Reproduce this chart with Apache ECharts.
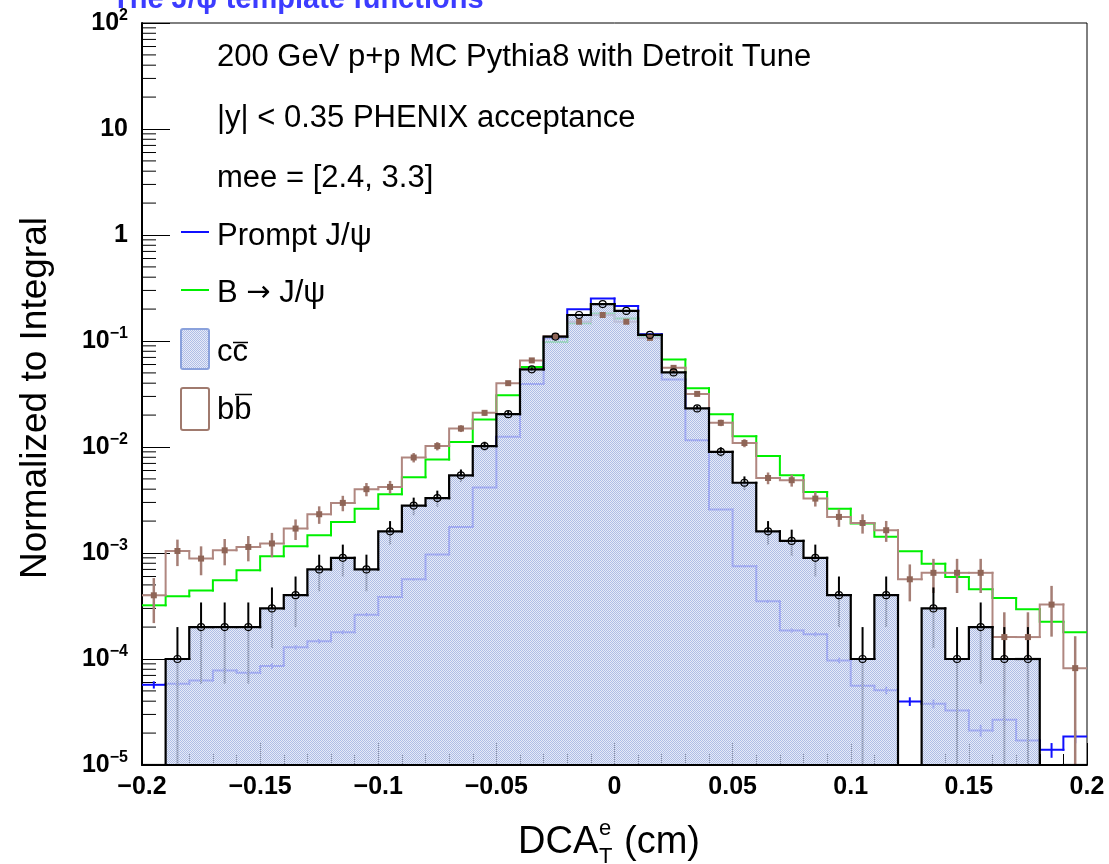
<!DOCTYPE html>
<html>
<head>
<meta charset="utf-8">
<title>J/psi DCA templates</title>
<script src="https://cdn.jsdelivr.net/npm/echarts@6/dist/echarts.min.js"></script>
<style>
  html, body { margin: 0; padding: 0; background: #ffffff; }
  #chart { width: 1109px; height: 864px; }
</style>
</head>
<body>
<div id="chart"></div>
<script>
// Bin edges of DCA_T^e (cm): 40 bins of 0.01 cm
const binEdges = [-0.2, -0.19, -0.18, -0.17, -0.16, -0.15, -0.14, -0.13, -0.12, -0.11,
  -0.1, -0.09, -0.08, -0.07, -0.06, -0.05, -0.04, -0.03, -0.02, -0.01,
  0, 0.01, 0.02, 0.03, 0.04, 0.05, 0.06, 0.07, 0.08, 0.09,
  0.1, 0.11, 0.12, 0.13, 0.14, 0.15, 0.16, 0.17, 0.18, 0.19, 0.2];

// Prompt J/psi (normalized to integral)
const promptJpsi = [5.71e-5, 5.84e-5, 6.28e-5, 7.8e-5, 7.41e-5, 8.57e-5, 1.29e-4, 1.47e-4, 1.79e-4, 2.62e-4,
  3.84e-4, 5.65e-4, 9.66e-4, 1.76e-3, 4.14e-3, 0.01247, 0.0394, 0.106, 0.199, 0.252,
  0.214, 0.116, 0.0434, 0.0116, 0.00257, 7.5e-4, 3.5e-4, 1.86e-4, 1.71e-4, 9.7e-5,
  5.6e-5, 5.06e-5, 3.98e-5, 3.78e-5, 3.27e-5, 2.12e-5, 2.67e-5, 1.7e-5, 1.39e-5, 1.86e-5];

// B -> J/psi
const bToJpsi = [3.21e-4, 3.9e-4, 4.44e-4, 5.52e-4, 6.87e-4, 9.31e-4, 1.16e-3, 1.47e-3, 1.96e-3, 2.62e-3,
  3.58e-3, 5.19e-3, 7.62e-3, 0.01117, 0.01817, 0.0308, 0.057, 0.098, 0.147, 0.182,
  0.163, 0.109, 0.067, 0.0358, 0.0204, 0.01265, 0.00824, 0.00542, 0.00377, 0.00262,
  0.0019, 0.00142, 0.00104, 7.9e-4, 5.94e-4, 4.54e-4, 3.76e-4, 2.94e-4, 2.25e-4, 1.79e-4];

// c cbar
const ccbar = [0, 1e-4, 2e-4, 2e-4, 2e-4, 3e-4, 4e-4, 7e-4, 9e-4, 7e-4,
  1.6e-3, 2.8e-3, 3.3e-3, 5.4e-3, 0.0102, 0.0204, 0.054, 0.110, 0.176, 0.223,
  0.192, 0.114, 0.0505, 0.0231, 0.0090, 0.0046, 0.0016, 0.0013, 9e-4, 4e-4,
  1e-4, 4e-4, 0, 3e-4, 1e-4, 2e-4, 1e-4, 1e-4, 0, 0];

// b bbar
const bbbar = [3.99e-4, 1.045e-3, 8.86e-4, 1.06e-3, 1.14e-3, 1.23e-3, 1.70e-3, 2.32e-3, 2.97e-3, 4.0e-3,
  4.2e-3, 7.96e-3, 0.0102, 0.01494, 0.021, 0.040, 0.0656, 0.111, 0.152, 0.176,
  0.152, 0.107, 0.0558, 0.0317, 0.0169, 0.0109, 0.0051, 0.00486, 0.00326, 0.00219,
  0.00192, 0.00164, 5.65e-4, 6.5e-4, 6.5e-4, 6.5e-4, 1.61e-4, 1.61e-4, 3.26e-4, 8.2e-5];

// Per-entry weights used for the Poisson error bars
const promptWeight = 3.5e-7;
const ccbarWeight = 1e-4;
const bbbarWeight = 8.2e-5;

// Axis decades (exponents) and minor multipliers of the log axis
const yDecades = [-5, -4, -3, -2, -1, 0, 1, 2];
const minorMultipliers = [2, 3, 4, 5, 6, 7, 8, 9];

const Y_MIN = 1e-5, Y_MAX = 100;
const FONT = '"Liberation Sans", Arial, Helvetica, sans-serif';

const BLUE = '#1010ff';
const GREEN = '#00f000';
const BROWN_LINE = '#b08780';
const BROWN_ERR = '#a57e75';
const BROWN_MARK = '#8f6557';

// 1-pixel stipple used for the c cbar fill
function makeStipple() {
  const c = document.createElement('canvas');
  c.width = 2; c.height = 2;
  const g = c.getContext('2d');
  g.fillStyle = '#afbee6';
  g.fillRect(0, 0, 1, 1);
  g.fillRect(1, 1, 1, 1);
  g.fillStyle = 'rgba(218,225,244,0.65)';
  g.fillRect(1, 0, 1, 1);
  g.fillRect(0, 1, 1, 1);
  return c;
}
const stipple = { image: makeStipple(), repeat: 'repeat' };

const floorVal = v => (v > Y_MIN ? v : Y_MIN);

function histItems(values) {
  return values.map((v, i) => [binEdges[i], binEdges[i + 1], v, i > 0 ? values[i - 1] : 0]);
}
function centerItems(values, weight) {
  const out = [];
  values.forEach((v, i) => {
    if (v > 0) out.push([(binEdges[i] + binEdges[i + 1]) / 2, v, Math.sqrt(v * weight)]);
  });
  return out;
}

function stepRenderer(color, width) {
  return function (params, api) {
    const x0 = api.value(0), x1 = api.value(1), v = floorVal(api.value(2));
    const pts = [];
    if (params.dataIndex > 0) pts.push(api.coord([x0, floorVal(api.value(3))]));
    pts.push(api.coord([x0, v]), api.coord([x1, v]));
    return {
      type: 'polyline', silent: true,
      shape: { points: pts },
      style: { stroke: color, lineWidth: width, fill: null, lineJoin: 'miter', lineCap: 'square' }
    };
  };
}

function errRenderer(color, width) {
  return function (params, api) {
    const x = api.value(0), v = api.value(1), e = api.value(2);
    const top = api.coord([x, v + e]);
    const bot = api.coord([x, floorVal(v - e)]);
    return {
      type: 'line', silent: true,
      shape: { x1: top[0], y1: top[1], x2: bot[0], y2: bot[1] },
      style: { stroke: color, lineWidth: width }
    };
  };
}

function fillRenderer(params, api) {
  const v = api.value(2);
  if (!(v > 0)) return null;
  const a = api.coord([api.value(0), v]);
  const b = api.coord([api.value(1), Y_MIN]);
  const x0 = Math.round(a[0]), x1 = Math.round(b[0]);
  return {
    type: 'rect', silent: true,
    shape: { x: x0, y: a[1], width: x1 - x0, height: b[1] - a[1] - 1 },
    style: { fill: stipple }
  };
}

// Minor ticks of the log axis (2..9 in each decade)
const minorTicks = [];
yDecades.slice(0, -1).forEach(d => {
  minorMultipliers.forEach(m => minorTicks.push([binEdges[0], m * Math.pow(10, d)]));
});
function minorTickRenderer(params, api) {
  const p = api.coord([api.value(0), api.value(1)]);
  return {
    type: 'line', silent: true,
    shape: { x1: p[0], y1: p[1], x2: p[0] + 14, y2: p[1] },
    style: { stroke: '#000', lineWidth: 1 }
  };
}

function powLabel(v) {
  const e = Math.round(Math.log10(v));
  if (e === 0) return '{b|1}';
  if (e === 1) return '{b|10}';
  return '{b|10}{s|' + String(e).replace('-', '\u2212') + '}';
}
function xLabel(v) {
  const s = String(+v.toFixed(3));
  return s.replace('-', '\u2212');
}

const customBase = { type: 'custom', coordinateSystem: 'cartesian2d', clip: true, silent: true, animation: false };

const option = {
  animation: false,
  backgroundColor: '#ffffff',
  grid: { left: 142, right: 22, top: 23, bottom: 99, show: true, borderColor: '#000', borderWidth: 1, backgroundColor: 'transparent' },
  xAxis: {
    type: 'value', min: -0.2, max: 0.2, interval: 0.05,
    axisLine: { show: true, onZero: false, lineStyle: { color: '#000', width: 2 } },
    axisTick: { show: true, inside: true, length: 22, lineStyle: { color: '#000', width: 1 } },
    minorTick: { show: true, splitNumber: 5, length: 11, lineStyle: { color: '#000', width: 1 } },
    splitLine: { show: false },
    axisLabel: {
      margin: 10, formatter: xLabel, color: '#000', fontFamily: FONT, fontWeight: 'bold', fontSize: 25,
      showMinLabel: true, showMaxLabel: true, hideOverlap: false
    }
  },
  yAxis: {
    type: 'log', logBase: 10, min: Y_MIN, max: Y_MAX, splitNumber: 7,
    axisLine: { show: true, onZero: false, lineStyle: { color: '#000', width: 2 } },
    axisTick: { show: true, inside: true, length: 28, lineStyle: { color: '#000', width: 1 } },
    splitLine: { show: false },
    axisLabel: {
      margin: 14, formatter: powLabel, color: '#000',
      showMinLabel: true, showMaxLabel: true, hideOverlap: false,
      rich: {
        b: { fontFamily: FONT, fontWeight: 'bold', fontSize: 25, lineHeight: 30, color: '#000' },
        s: { fontFamily: FONT, fontWeight: 'bold', fontSize: 16, lineHeight: 12, verticalAlign: 'top', color: '#000' }
      }
    }
  },
  series: [
    Object.assign({}, customBase, { name: 'minorTicks', z: 1, data: minorTicks, encode: { x: 0, y: 1 }, renderItem: minorTickRenderer }),
    Object.assign({}, customBase, { name: 'Prompt J/\u03c8', z: 2, data: histItems(promptJpsi), encode: { x: [0, 1], y: 2 }, renderItem: stepRenderer(BLUE, 2) }),
    Object.assign({}, customBase, { name: 'Prompt err', z: 2, data: centerItems(promptJpsi, promptWeight), encode: { x: 0, y: 1 }, renderItem: errRenderer(BLUE, 2) }),
    Object.assign({}, customBase, { name: 'B \u2192 J/\u03c8', z: 2, data: histItems(bToJpsi), encode: { x: [0, 1], y: 2 }, renderItem: stepRenderer(GREEN, 2) }),
    Object.assign({}, customBase, { name: 'bbbar', z: 2, data: histItems(bbbar), encode: { x: [0, 1], y: 2 }, renderItem: stepRenderer(BROWN_LINE, 2) }),
    Object.assign({}, customBase, { name: 'bbbar err', z: 2, data: centerItems(bbbar, bbbarWeight), encode: { x: 0, y: 1 }, renderItem: errRenderer(BROWN_ERR, 2.5) }),
    Object.assign({}, customBase, { name: 'ccbar err', z: 2, data: centerItems(ccbar, ccbarWeight), encode: { x: 0, y: 1 }, renderItem: errRenderer('#000', 2) }),
    Object.assign({}, customBase, { name: 'ccbar fill', z: 3, data: histItems(ccbar), encode: { x: [0, 1], y: 2 }, renderItem: fillRenderer }),
    Object.assign({}, customBase, { name: 'ccbar', z: 4, data: histItems(ccbar), encode: { x: [0, 1], y: 2 }, renderItem: stepRenderer('#000', 2.2) }),
    {
      type: 'scatter', name: 'bbbar points', z: 5, silent: true, animation: false,
      symbol: 'rect', symbolSize: 6, itemStyle: { color: BROWN_MARK, opacity: 1 },
      data: centerItems(bbbar, bbbarWeight).map(d => [d[0], d[1]])
    },
    {
      type: 'scatter', name: 'ccbar points', z: 5, silent: true, animation: false,
      symbol: 'circle', symbolSize: 7,
      itemStyle: { color: 'rgba(255,255,255,0)', borderColor: '#000', borderWidth: 1.2, opacity: 1 },
      data: centerItems(ccbar, ccbarWeight).map(d => [d[0], d[1]])
    }
  ],
  graphic: [
    // Title (partly above the canvas top edge)
    { type: 'text', x: 112, y: 14, z: 10, style: { text: 'The J/\u03c8 template functions', font: 'bold 29px ' + FONT, fill: '#3c3cff', textAlign: 'left', textVerticalAlign: 'bottom' } },
    // Annotations
    { type: 'text', x: 217, y: 57, z: 10, style: { text: '200 GeV p+p MC Pythia8 with Detroit Tune', font: '31px ' + FONT, fill: '#000', textAlign: 'left', textVerticalAlign: 'middle' } },
    { type: 'text', x: 217, y: 118, z: 10, style: { text: '|y| < 0.35 PHENIX acceptance', font: '31px ' + FONT, fill: '#000', textAlign: 'left', textVerticalAlign: 'middle' } },
    { type: 'text', x: 217, y: 178, z: 10, style: { text: 'mee = [2.4, 3.3]', font: '31px ' + FONT, fill: '#000', textAlign: 'left', textVerticalAlign: 'middle' } },
    // Legend
    { type: 'line', z: 10, shape: { x1: 181, y1: 232, x2: 209, y2: 232 }, style: { stroke: BLUE, lineWidth: 2 } },
    { type: 'text', x: 217, y: 236, z: 10, style: { text: 'Prompt J/\u03c8', font: '31px ' + FONT, fill: '#000', textAlign: 'left', textVerticalAlign: 'middle' } },
    { type: 'line', z: 10, shape: { x1: 181, y1: 290, x2: 209, y2: 290 }, style: { stroke: GREEN, lineWidth: 2 } },
    {
      type: 'text', x: 217, y: 293, z: 10,
      style: {
        text: '{t|B }{a|\u2192}{t| J/\u03c8}', fill: '#000', textAlign: 'left', textVerticalAlign: 'middle',
        rich: {
          t: { fontFamily: FONT, fontSize: 31, fill: '#000', lineHeight: 36 },
          a: { fontFamily: '"DejaVu Sans", sans-serif', fontSize: 29, fill: '#000', lineHeight: 36 }
        }
      }
    },
    { type: 'rect', z: 10, shape: { x: 181, y: 329, width: 28, height: 40, r: 2 }, style: { fill: stipple, stroke: '#8aa1dc', lineWidth: 2 } },
    { type: 'text', x: 217, y: 352, z: 10, style: { text: 'cc', font: '31px ' + FONT, fill: '#000', textAlign: 'left', textVerticalAlign: 'middle' } },
    { type: 'line', z: 10, shape: { x1: 233, y1: 342.5, x2: 248, y2: 342.5 }, style: { stroke: '#000', lineWidth: 1.5 } },
    { type: 'rect', z: 10, shape: { x: 181, y: 388, width: 28, height: 42, r: 2 }, style: { fill: 'rgba(255,255,255,0)', stroke: '#a07a6e', lineWidth: 2 } },
    { type: 'text', x: 217, y: 410, z: 10, style: { text: 'bb', font: '31px ' + FONT, fill: '#000', textAlign: 'left', textVerticalAlign: 'middle' } },
    { type: 'line', z: 10, shape: { x1: 235, y1: 394.5, x2: 252, y2: 394.5 }, style: { stroke: '#000', lineWidth: 1.5 } },
    // Axis titles
    { type: 'text', x: 36, y: 398, rotation: Math.PI / 2, z: 10, style: { text: 'Normalized to Integral', font: '37px ' + FONT, fill: '#000', textAlign: 'center', textVerticalAlign: 'middle' } },
    { type: 'text', x: 518, y: 843, z: 10, style: { text: 'DCA', font: '38px ' + FONT, fill: '#000', textAlign: 'left', textVerticalAlign: 'middle' } },
    { type: 'text', x: 599, y: 829, z: 10, style: { text: 'e', font: '22px ' + FONT, fill: '#000', textAlign: 'left', textVerticalAlign: 'middle' } },
    { type: 'text', x: 599, y: 857, z: 10, style: { text: 'T', font: '22px ' + FONT, fill: '#000', textAlign: 'left', textVerticalAlign: 'middle' } },
    { type: 'text', x: 624, y: 843, z: 10, style: { text: '(cm)', font: '38px ' + FONT, fill: '#000', textAlign: 'left', textVerticalAlign: 'middle' } }
  ]
};

const chart = echarts.init(document.getElementById('chart'), null, { renderer: 'canvas' });
chart.setOption(option);
</script>
</body>
</html>
